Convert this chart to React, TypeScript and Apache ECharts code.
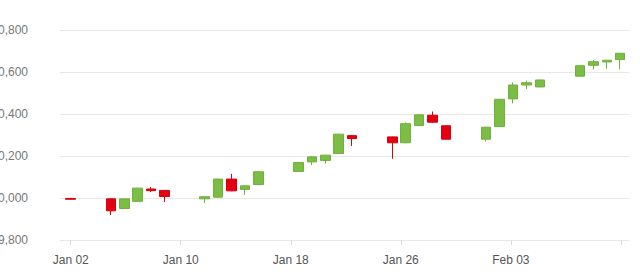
import React, { useEffect, useRef } from "react";
import * as echarts from "echarts";

// Trading days
const dates = [
  "2015-01-02",
  "2015-01-05", "2015-01-06", "2015-01-07", "2015-01-08", "2015-01-09",
  "2015-01-12", "2015-01-13", "2015-01-14", "2015-01-15", "2015-01-16",
  "2015-01-19", "2015-01-20", "2015-01-21", "2015-01-22", "2015-01-23",
  "2015-01-26", "2015-01-27", "2015-01-28", "2015-01-29", "2015-01-30",
  "2015-02-02", "2015-02-03", "2015-02-04", "2015-02-05", "2015-02-06",
  "2015-02-09", "2015-02-10", "2015-02-11", "2015-02-12",
];
const opens = [
  9998,
  9996, 9950, 9984, 10043, 10036,
  9996, 10004, 10090, 10041, 10064,
  10126, 10172, 10179, 10212, 10297,
  10291, 10263, 10345, 10394, 10344,
  10280, 10340, 10472, 10538, 10529,
  10580, 10632, 10648, 10659,
];
const closes = [
  9994,
  9939, 9996, 10047, 10035, 10007,
  10006, 10090, 10034, 10058, 10125,
  10169, 10196, 10204, 10304, 10283,
  10263, 10354, 10396, 10361, 10280,
  10337, 10470, 10538, 10549, 10562,
  10630, 10649, 10656, 10689,
];
const lows = [
  9992,
  9919, 9948, 9982, 10028, 9981,
  9976, 10002, 10032, 10015, 10062,
  10124, 10157, 10164, 10210, 10248,
  10187, 10261, 10343, 10359, 10278,
  10269, 10338, 10451, 10518, 10527,
  10578, 10613, 10616, 10613,
];
const highs = [
  9999,
  9997, 9998, 10049, 10052, 10038,
  10008, 10092, 10115, 10060, 10127,
  10171, 10198, 10206, 10306, 10299,
  10292, 10360, 10398, 10412, 10345,
  10339, 10472, 10551, 10559, 10564,
  10632, 10657, 10658, 10691,
];
const tickLabels = ["Jan 02", "Jan 10", "Jan 18", "Jan 26", "Feb 03", "Feb 11"];
const yMin = 9800;
const yMax = 10800;
const yStep = 200;

const DAY = 86400000;
const base = Date.UTC(2015, 0, 2);
const dayIndex = (s: string) => {
  const [y, m, d] = s.split("-").map(Number);
  return Math.round((Date.UTC(y, m - 1, d) - base) / DAY);
};

const TICK_STEP = 8.21;
const tickPos = tickLabels.map((_, i) => +(i * TICK_STEP).toFixed(3));
const labelPos = tickPos.slice(0, tickLabels.length - 1);

export default function App() {
  const ref = useRef<HTMLDivElement>(null);
  useEffect(() => {
    if (!ref.current) return;
    const chart = echarts.init(ref.current, undefined, { renderer: "svg" });
    const data = dates.map((d, i) => [dayIndex(d), opens[i], closes[i], lows[i], highs[i]]);
    chart.setOption({
      animation: false,
      grid: {
        left: 60,
        right: 11,
        top: 30,
        bottom: 32,
        containLabel: false,
        outerBoundsMode: "none",
      },
      xAxis: {
        type: "value",
        min: -0.8,
        max: 41.66,
        axisLine: { show: false },
        splitLine: { show: false },
        axisTick: {
          show: true,
          length: 5,
          customValues: tickPos,
          lineStyle: { color: "#dcdcdc" },
        },
        axisLabel: {
          customValues: labelPos,
          margin: 14,
          color: "#555",
          fontSize: 12,
          fontFamily: "Liberation Sans, Arial, sans-serif",
          formatter: (v: number) => {
            let best = 0;
            for (let i = 0; i < tickPos.length; i++) {
              if (Math.abs(tickPos[i] - v) < Math.abs(tickPos[best] - v)) best = i;
            }
            return tickLabels[best];
          },
        },
      },
      yAxis: {
        type: "value",
        min: yMin,
        max: yMax,
        interval: yStep,
        axisLine: { show: false },
        axisTick: { show: false },
        splitLine: { lineStyle: { color: "#e8e8e8" } },
        axisLabel: {
          margin: 32,
          color: "#777",
          fontSize: 12,
          fontFamily: "Liberation Sans, Arial, sans-serif",
          formatter: (v: number) => v.toLocaleString("en-US"),
        },
      },
      series: [
        {
          type: "candlestick",
          data,
          encode: { x: 0, y: [1, 2, 3, 4] },
          barWidth: 10,
          itemStyle: {
            color: "#7cbd45",
            color0: "#e3000f",
            borderColor: "#70b03c",
            borderColor0: "#d6000e",
            borderWidth: 1,
          },
        },
      ],
    });
    return () => chart.dispose();
  }, []);
  return (
    <div
      ref={ref}
      style={{ position: "fixed", left: 0, top: 0, width: 640, height: 272, background: "#fff" }}
    />
  );
}
